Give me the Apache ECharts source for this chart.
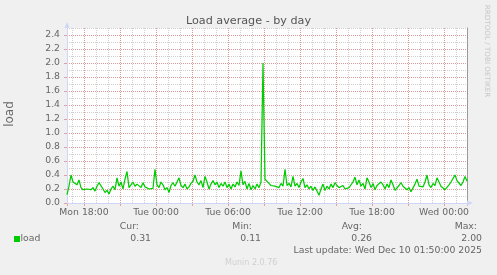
<!DOCTYPE html>
<html><head><meta charset="utf-8">
<script src="https://cdn.jsdelivr.net/npm/echarts@6/dist/echarts.min.js"></script>
<style>html,body{margin:0;padding:0;background:#f0f0f0}#c{width:497px;height:275px}</style>
</head><body><div id="c"></div>
<script>
// x values are hours since Mon 00:00
const startHour = 16 + 35 / 60;   // Mon 16:35
const stepHours = 10 / 60;        // 10 minute samples
const loadValues = [
  0.12,0.24,0.40,0.30,0.32,0.26,0.33,0.22,0.19,0.18,
  0.20,0.18,0.19,0.22,0.17,0.24,0.29,0.28,0.20,0.15,
  0.18,0.13,0.20,0.24,0.19,0.36,0.24,0.30,0.20,0.34,
  0.45,0.22,0.26,0.30,0.24,0.27,0.25,0.22,0.29,0.23,
  0.25,0.20,0.22,0.21,0.48,0.26,0.22,0.30,0.26,0.19,
  0.22,0.15,0.25,0.29,0.24,0.30,0.36,0.25,0.22,0.27,
  0.20,0.23,0.28,0.31,0.40,0.30,0.26,0.32,0.22,0.38,
  0.30,0.20,0.27,0.32,0.26,0.30,0.22,0.28,0.24,0.30,
  0.22,0.27,0.20,0.27,0.23,0.30,0.25,0.46,0.26,0.31,
  0.20,0.28,0.19,0.25,0.20,0.27,0.22,0.30,2.00,0.34,
  0.32,0.28,0.25,0.27,0.24,0.26,0.22,0.28,0.24,0.48,
  0.25,0.28,0.23,0.38,0.24,0.28,0.22,0.30,0.35,0.22,
  0.26,0.20,0.24,0.18,0.23,0.17,0.11,0.20,0.27,0.18,
  0.24,0.20,0.27,0.22,0.29,0.25,0.22,0.21,0.25,0.20,
  0.21,0.22,0.20,0.30,0.37,0.26,0.33,0.24,0.28,0.20,
  0.36,0.30,0.22,0.28,0.19,0.25,0.23,0.30,0.26,0.20,
  0.27,0.22,0.33,0.26,0.18,0.16,0.25,0.29,0.24,0.26,
  0.19,0.22,0.16,0.17,0.27,0.34,0.24,0.26,0.23,0.30,
  0.40,0.26,0.22,0.28,0.25,0.36,0.30,0.24,0.26,0.19,
  0.18,0.26,0.30,0.28,0.40,0.32,0.34,0.25,0.30,0.38,
  0.31
];
const dayNames = ['Mon', 'Tue', 'Wed'];
const minorGridHours = 1;   // grey vertical grid every hour
const majorGridHours = 3;   // red vertical grid every 3 hours
const labelEveryHours = 6;  // tick labels every 6 hours
const yLabelStep = 0.2;
const yMinorStep = 0.1;
const yMax = 2.5;
const seriesName = 'load';
const statLabels = ['Cur:', 'Min:', 'Avg:', 'Max:'];
const statValues = ['0.31', '0.11', '0.26', '2.00'];
const lastUpdate = 'Last update: Wed Dec 10 01:50:00 2025';

const xMin = startHour;
const xMax = startHour + (loadValues.length - 1) * stepHours;
const FONT = 'DejaVu Sans';
const AXIS = '#CFD6F8';
const MGRID = 'rgba(222,140,140,0.8)';
const GRID = '#cfcfcf';
function fmtHour(h) {
  const r = Math.round(h);
  const hh = r % 24;
  return dayNames[Math.floor(r / 24)] + ' ' + (hh < 10 ? '0' : '') + hh + ':00';
}
const hidden = { show: false };
const chart = echarts.init(document.getElementById('c'), null, { renderer: 'canvas' });
const statLabelRight = [139, 252, 362, 477];
const statValueRight = [151, 261, 372, 482];
const txt = (x, y, text, opt) => ({
  type: 'text', x: x, y: y,
  style: Object.assign({ text: text, fill: '#666', font: '9.3px ' + FONT, align: 'right', verticalAlign: 'middle' }, opt || {})
});
const graphics = [];
statLabels.forEach((s, i) => graphics.push(txt(statLabelRight[i], 227, s)));
statValues.forEach((s, i) => graphics.push(txt(statValueRight[i], 239, s)));
graphics.push(txt(482, 251, lastUpdate));
graphics.push({ type: 'rect', shape: { x: 14, y: 236, width: 6, height: 6 }, style: { fill: '#00cc00' } });
graphics.push(txt(20.5, 239, seriesName, { align: 'left' }));
graphics.push(txt(225, 263, 'Munin 2.0.76', { align: 'left', fill: '#d0d0d0', font: '8px ' + FONT }));
graphics.push({ type: 'text', x: 10, y: 114, rotation: Math.PI / 2,
  style: { text: 'load', fill: '#666', font: '12px ' + FONT, align: 'center', verticalAlign: 'middle' } });
graphics.push({ type: 'text', x: 487, y: 51, rotation: -Math.PI / 2,
  style: { text: 'RRDTOOL / TOBI OETIKER', fill: '#c8c8c8', font: '7.2px ' + FONT, align: 'center', verticalAlign: 'middle' } });
graphics.push({ type: 'text', x: 248.5, y: 21.5,
  style: { text: 'Load average - by day', fill: '#555', font: '11.2px ' + FONT, align: 'center', verticalAlign: 'middle' } });

const noEdge = { showMinLine: false, showMaxLine: false };
chart.setOption({
  backgroundColor: '#f0f0f0',
  animation: false,
  grid: { left: 67, right: 30, top: 28, bottom: 72, show: true, backgroundColor: '#fff', borderWidth: 0, containLabel: false },
  xAxis: [
    { type: 'value', min: xMin, max: xMax, position: 'bottom',
      minInterval: minorGridHours, maxInterval: minorGridHours,
      axisLine: hidden, axisLabel: hidden, axisTick: hidden,
      splitLine: Object.assign({ show: true, lineStyle: { color: GRID, type: [1, 1], width: 1 } }, noEdge) },
    { type: 'value', min: xMin / majorGridHours, max: xMax / majorGridHours, position: 'bottom',
      minInterval: 1, maxInterval: 1,
      axisLine: hidden, axisLabel: hidden,
      axisTick: { show: true, length: 3, lineStyle: { color: MGRID } },
      splitLine: Object.assign({ show: true, lineStyle: { color: MGRID, type: [1, 1], width: 1 } }, noEdge) },
    { type: 'value', min: xMin / labelEveryHours, max: xMax / labelEveryHours, position: 'bottom', z: 3,
      minInterval: 1, maxInterval: 1,
      axisLine: { show: true, onZero: false, lineStyle: { color: AXIS, width: 1 },
        symbol: ['none', 'triangle'], symbolSize: [5, 6], symbolOffset: [0, 3] },
      axisTick: hidden, splitLine: hidden,
      axisLabel: { show: true, showMinLabel: false, showMaxLabel: false,
        formatter: u => fmtHour(u * labelEveryHours), color: '#666',
        fontFamily: FONT, fontSize: 9.3, margin: 5 } }
  ],
  yAxis: [
    { type: 'value', min: 0, max: yMax, interval: yMinorStep, position: 'left',
      axisLine: hidden, axisLabel: hidden, axisTick: hidden,
      splitLine: { show: true, showMinLine: false, lineStyle: { color: GRID, type: [1, 1], width: 1 } } },
    { type: 'value', min: 0, max: yMax, interval: yLabelStep, position: 'left', z: 3,
      axisLine: { show: true, onZero: false, lineStyle: { color: AXIS, width: 1 },
        symbol: ['none', 'triangle'], symbolSize: [5, 6], symbolOffset: [0, 3] },
      axisTick: { show: true, length: 3, lineStyle: { color: MGRID } },
      splitLine: Object.assign({ show: true, lineStyle: { color: MGRID, type: [1, 1], width: 1 } }, noEdge),
      axisLabel: { show: true, showMaxLabel: false, formatter: v => v.toFixed(1), color: '#666',
        fontFamily: FONT, fontSize: 9.3, margin: 7 } },
    { type: 'value', min: 0, max: yMax, position: 'right',
      axisLine: { show: true, onZero: false, lineStyle: { color: '#9a9a9a', width: 1 } },
      axisTick: hidden, axisLabel: hidden, splitLine: hidden }
  ],
  series: [{
    name: seriesName, type: 'line', xAxisIndex: 0, yAxisIndex: 1,
    data: loadValues.map((v, i) => [startHour + i * stepHours, v]),
    symbol: 'none', lineStyle: { color: '#00cc00', width: 1.25 }, z: 5
  }],
  graphic: graphics
});
</script></body></html>
